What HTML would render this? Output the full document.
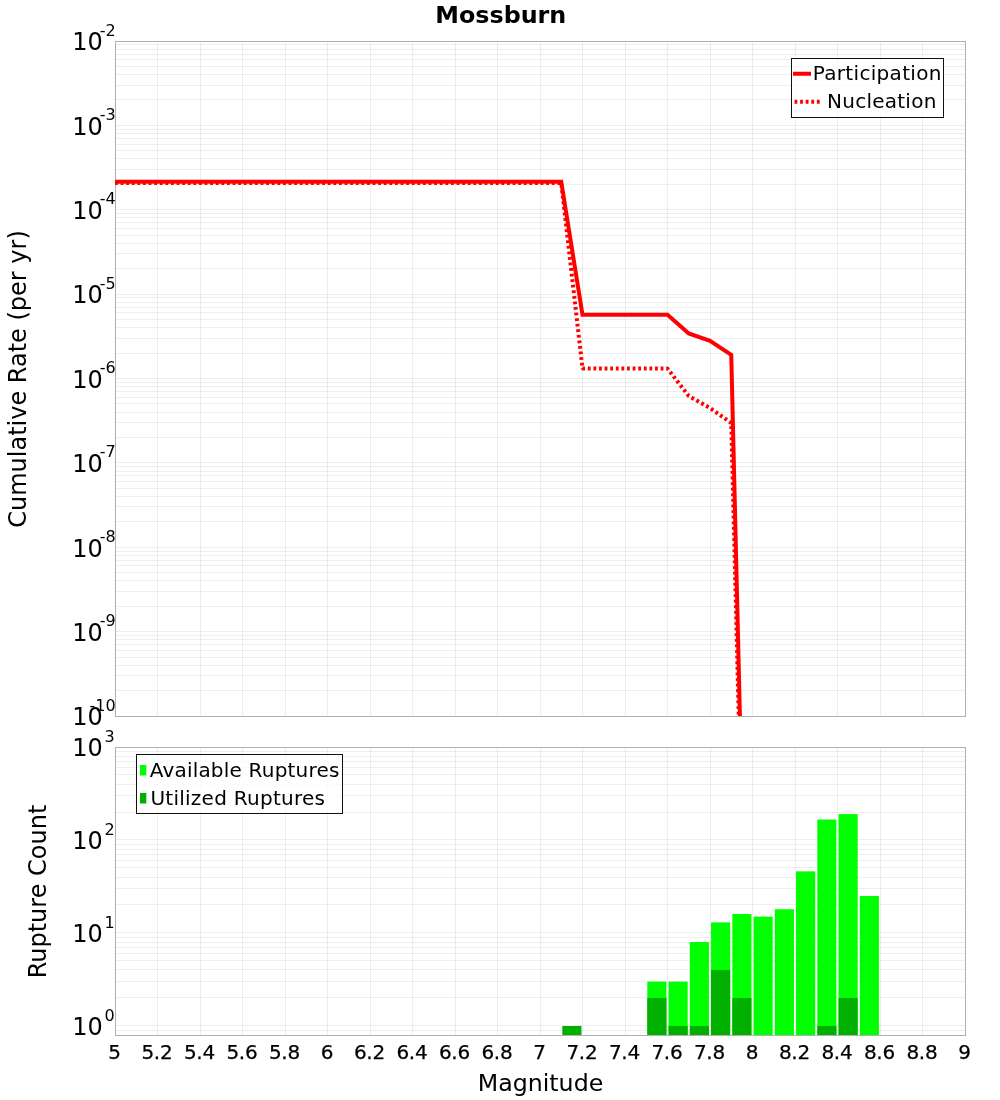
<!DOCTYPE html>
<html lang="en"><head><meta charset="utf-8"><title>Mossburn</title>
<style>html,body{margin:0;padding:0;background:#fff;}svg{display:block;}text{font-family:"DejaVu Sans", "Liberation Sans", sans-serif;fill:#000;}.xt text{stroke:#000;stroke-width:0.25px;}</style>
</head><body>
<svg width="1000" height="1100" viewBox="0 0 1000 1100">
<rect width="1000" height="1100" fill="#fff"/>
<g fill="#000" fill-opacity="0.065">
<rect x="157" y="42" width="1" height="674"/>
<rect x="157" y="748" width="1" height="287"/>
<rect x="200" y="42" width="1" height="674"/>
<rect x="200" y="748" width="1" height="287"/>
<rect x="242" y="42" width="1" height="674"/>
<rect x="242" y="748" width="1" height="287"/>
<rect x="285" y="42" width="1" height="674"/>
<rect x="285" y="748" width="1" height="287"/>
<rect x="327" y="42" width="1" height="674"/>
<rect x="327" y="748" width="1" height="287"/>
<rect x="370" y="42" width="1" height="674"/>
<rect x="370" y="748" width="1" height="287"/>
<rect x="412" y="42" width="1" height="674"/>
<rect x="412" y="748" width="1" height="287"/>
<rect x="455" y="42" width="1" height="674"/>
<rect x="455" y="748" width="1" height="287"/>
<rect x="497" y="42" width="1" height="674"/>
<rect x="497" y="748" width="1" height="287"/>
<rect x="540" y="42" width="1" height="674"/>
<rect x="540" y="748" width="1" height="287"/>
<rect x="582" y="42" width="1" height="674"/>
<rect x="582" y="748" width="1" height="287"/>
<rect x="625" y="42" width="1" height="674"/>
<rect x="625" y="748" width="1" height="287"/>
<rect x="667" y="42" width="1" height="674"/>
<rect x="667" y="748" width="1" height="287"/>
<rect x="710" y="42" width="1" height="674"/>
<rect x="710" y="748" width="1" height="287"/>
<rect x="752" y="42" width="1" height="674"/>
<rect x="752" y="748" width="1" height="287"/>
<rect x="795" y="42" width="1" height="674"/>
<rect x="795" y="748" width="1" height="287"/>
<rect x="837" y="42" width="1" height="674"/>
<rect x="837" y="748" width="1" height="287"/>
<rect x="880" y="42" width="1" height="674"/>
<rect x="880" y="748" width="1" height="287"/>
<rect x="922" y="42" width="1" height="674"/>
<rect x="922" y="748" width="1" height="287"/>
<rect x="116" y="125" width="849" height="1"/>
<rect x="116" y="99" width="849" height="1"/>
<rect x="116" y="85" width="849" height="1"/>
<rect x="116" y="74" width="849" height="1"/>
<rect x="116" y="66" width="849" height="1"/>
<rect x="116" y="59" width="849" height="1"/>
<rect x="116" y="54" width="849" height="1"/>
<rect x="116" y="49" width="849" height="1"/>
<rect x="116" y="44" width="849" height="1"/>
<rect x="116" y="209" width="849" height="1"/>
<rect x="116" y="184" width="849" height="1"/>
<rect x="116" y="169" width="849" height="1"/>
<rect x="116" y="158" width="849" height="1"/>
<rect x="116" y="150" width="849" height="1"/>
<rect x="116" y="144" width="849" height="1"/>
<rect x="116" y="138" width="849" height="1"/>
<rect x="116" y="133" width="849" height="1"/>
<rect x="116" y="129" width="849" height="1"/>
<rect x="116" y="294" width="849" height="1"/>
<rect x="116" y="268" width="849" height="1"/>
<rect x="116" y="253" width="849" height="1"/>
<rect x="116" y="243" width="849" height="1"/>
<rect x="116" y="235" width="849" height="1"/>
<rect x="116" y="228" width="849" height="1"/>
<rect x="116" y="222" width="849" height="1"/>
<rect x="116" y="217" width="849" height="1"/>
<rect x="116" y="213" width="849" height="1"/>
<rect x="116" y="378" width="849" height="1"/>
<rect x="116" y="353" width="849" height="1"/>
<rect x="116" y="338" width="849" height="1"/>
<rect x="116" y="327" width="849" height="1"/>
<rect x="116" y="319" width="849" height="1"/>
<rect x="116" y="312" width="849" height="1"/>
<rect x="116" y="307" width="849" height="1"/>
<rect x="116" y="302" width="849" height="1"/>
<rect x="116" y="297" width="849" height="1"/>
<rect x="116" y="462" width="849" height="1"/>
<rect x="116" y="437" width="849" height="1"/>
<rect x="116" y="422" width="849" height="1"/>
<rect x="116" y="412" width="849" height="1"/>
<rect x="116" y="403" width="849" height="1"/>
<rect x="116" y="397" width="849" height="1"/>
<rect x="116" y="391" width="849" height="1"/>
<rect x="116" y="386" width="849" height="1"/>
<rect x="116" y="382" width="849" height="1"/>
<rect x="116" y="547" width="849" height="1"/>
<rect x="116" y="521" width="849" height="1"/>
<rect x="116" y="506" width="849" height="1"/>
<rect x="116" y="496" width="849" height="1"/>
<rect x="116" y="488" width="849" height="1"/>
<rect x="116" y="481" width="849" height="1"/>
<rect x="116" y="475" width="849" height="1"/>
<rect x="116" y="471" width="849" height="1"/>
<rect x="116" y="466" width="849" height="1"/>
<rect x="116" y="631" width="849" height="1"/>
<rect x="116" y="606" width="849" height="1"/>
<rect x="116" y="591" width="849" height="1"/>
<rect x="116" y="580" width="849" height="1"/>
<rect x="116" y="572" width="849" height="1"/>
<rect x="116" y="565" width="849" height="1"/>
<rect x="116" y="560" width="849" height="1"/>
<rect x="116" y="555" width="849" height="1"/>
<rect x="116" y="551" width="849" height="1"/>
<rect x="116" y="690" width="849" height="1"/>
<rect x="116" y="675" width="849" height="1"/>
<rect x="116" y="665" width="849" height="1"/>
<rect x="116" y="657" width="849" height="1"/>
<rect x="116" y="650" width="849" height="1"/>
<rect x="116" y="644" width="849" height="1"/>
<rect x="116" y="639" width="849" height="1"/>
<rect x="116" y="635" width="849" height="1"/>
<rect x="116" y="1030" width="849" height="1"/>
<rect x="116" y="1025" width="849" height="1"/>
<rect x="116" y="997" width="849" height="1"/>
<rect x="116" y="981" width="849" height="1"/>
<rect x="116" y="969" width="849" height="1"/>
<rect x="116" y="960" width="849" height="1"/>
<rect x="116" y="953" width="849" height="1"/>
<rect x="116" y="947" width="849" height="1"/>
<rect x="116" y="942" width="849" height="1"/>
<rect x="116" y="937" width="849" height="1"/>
<rect x="116" y="932" width="849" height="1"/>
<rect x="116" y="904" width="849" height="1"/>
<rect x="116" y="888" width="849" height="1"/>
<rect x="116" y="877" width="849" height="1"/>
<rect x="116" y="867" width="849" height="1"/>
<rect x="116" y="860" width="849" height="1"/>
<rect x="116" y="854" width="849" height="1"/>
<rect x="116" y="849" width="849" height="1"/>
<rect x="116" y="844" width="849" height="1"/>
<rect x="116" y="839" width="849" height="1"/>
<rect x="116" y="812" width="849" height="1"/>
<rect x="116" y="795" width="849" height="1"/>
<rect x="116" y="784" width="849" height="1"/>
<rect x="116" y="774" width="849" height="1"/>
<rect x="116" y="767" width="849" height="1"/>
<rect x="116" y="761" width="849" height="1"/>
<rect x="116" y="756" width="849" height="1"/>
<rect x="116" y="751" width="849" height="1"/>
</g>
<g fill="none" stroke="#000" stroke-opacity="0.31" stroke-width="1">
<rect x="115.5" y="41.5" width="850.0" height="675.0"/>
<rect x="115.5" y="747.5" width="850.0" height="288.0"/>
</g>
<clipPath id="cu"><rect x="115" y="41" width="850.5" height="675"/></clipPath>
<g clip-path="url(#cu)" fill="none" stroke="#ff0000" stroke-width="4">
<polyline points="115.00,182.90 561.25,182.90 582.50,368.50 667.50,368.50 688.75,396.00 710.00,408.00 731.25,423.00 752.50,1255.00" stroke-dasharray="2.8 2.8" stroke-linejoin="bevel"/>
<polyline points="115.00,181.80 561.25,181.80 582.50,314.80 667.50,314.80 688.75,333.40 710.00,340.90 731.25,354.80 752.50,1240.00" stroke-linejoin="miter" stroke-miterlimit="10"/>
</g>
<g fill="#00ff00">
<rect x="647.31" y="981.63" width="19.12" height="53.37"/>
<rect x="668.56" y="981.63" width="19.12" height="53.37"/>
<rect x="689.81" y="942.01" width="19.12" height="92.99"/>
<rect x="711.06" y="922.40" width="19.12" height="112.60"/>
<rect x="732.31" y="914.02" width="19.12" height="120.98"/>
<rect x="753.56" y="916.62" width="19.12" height="118.38"/>
<rect x="774.81" y="909.26" width="19.12" height="125.74"/>
<rect x="796.06" y="871.36" width="19.12" height="163.64"/>
<rect x="817.31" y="819.53" width="19.12" height="215.47"/>
<rect x="838.56" y="814.08" width="19.12" height="220.92"/>
<rect x="859.81" y="895.99" width="19.12" height="139.01"/>
</g><g fill="#00af00">
<rect x="562.31" y="1026.00" width="19.12" height="9.00"/>
<rect x="647.31" y="998.00" width="19.12" height="37.00"/>
<rect x="668.56" y="1026.00" width="19.12" height="9.00"/>
<rect x="689.81" y="1026.00" width="19.12" height="9.00"/>
<rect x="711.06" y="970.01" width="19.12" height="64.99"/>
<rect x="732.31" y="998.00" width="19.12" height="37.00"/>
<rect x="817.31" y="1026.00" width="19.12" height="9.00"/>
<rect x="838.56" y="998.00" width="19.12" height="37.00"/>
</g>
<text x="500.8" y="22.7" font-size="23.8" font-weight="bold" text-anchor="middle">Mossburn</text>
<text x="102.8" y="50.30" font-size="24" text-anchor="end">10</text>
<text x="115.6" y="35.50" font-size="16" text-anchor="end">-2</text>
<text x="102.8" y="134.68" font-size="24" text-anchor="end">10</text>
<text x="115.6" y="119.88" font-size="16" text-anchor="end">-3</text>
<text x="102.8" y="219.05" font-size="24" text-anchor="end">10</text>
<text x="115.6" y="204.25" font-size="16" text-anchor="end">-4</text>
<text x="102.8" y="303.43" font-size="24" text-anchor="end">10</text>
<text x="115.6" y="288.62" font-size="16" text-anchor="end">-5</text>
<text x="102.8" y="387.80" font-size="24" text-anchor="end">10</text>
<text x="115.6" y="373.00" font-size="16" text-anchor="end">-6</text>
<text x="102.8" y="472.18" font-size="24" text-anchor="end">10</text>
<text x="115.6" y="457.38" font-size="16" text-anchor="end">-7</text>
<text x="102.8" y="556.55" font-size="24" text-anchor="end">10</text>
<text x="115.6" y="541.75" font-size="16" text-anchor="end">-8</text>
<text x="102.8" y="640.92" font-size="24" text-anchor="end">10</text>
<text x="115.6" y="626.12" font-size="16" text-anchor="end">-9</text>
<text x="102.8" y="725.30" font-size="24" text-anchor="end">10</text>
<text x="115.6" y="710.50" font-size="16" text-anchor="end">-10</text>
<text x="102.8" y="1035.30" font-size="24" text-anchor="end">10</text>
<text x="114.6" y="1021.10" font-size="16" text-anchor="end">0</text>
<text x="102.8" y="942.30" font-size="24" text-anchor="end">10</text>
<text x="114.6" y="928.10" font-size="16" text-anchor="end">1</text>
<text x="102.8" y="849.30" font-size="24" text-anchor="end">10</text>
<text x="114.6" y="835.10" font-size="16" text-anchor="end">2</text>
<text x="102.8" y="756.30" font-size="24" text-anchor="end">10</text>
<text x="114.6" y="742.10" font-size="16" text-anchor="end">3</text>
<g class="xt">
<text x="114.40" y="1059.3" font-size="20" letter-spacing="-0.3" text-anchor="middle">5</text>
<text x="156.90" y="1059.3" font-size="20" letter-spacing="-0.3" text-anchor="middle">5.2</text>
<text x="199.40" y="1059.3" font-size="20" letter-spacing="-0.3" text-anchor="middle">5.4</text>
<text x="241.90" y="1059.3" font-size="20" letter-spacing="-0.3" text-anchor="middle">5.6</text>
<text x="284.40" y="1059.3" font-size="20" letter-spacing="-0.3" text-anchor="middle">5.8</text>
<text x="326.90" y="1059.3" font-size="20" letter-spacing="-0.3" text-anchor="middle">6</text>
<text x="369.40" y="1059.3" font-size="20" letter-spacing="-0.3" text-anchor="middle">6.2</text>
<text x="411.90" y="1059.3" font-size="20" letter-spacing="-0.3" text-anchor="middle">6.4</text>
<text x="454.40" y="1059.3" font-size="20" letter-spacing="-0.3" text-anchor="middle">6.6</text>
<text x="496.90" y="1059.3" font-size="20" letter-spacing="-0.3" text-anchor="middle">6.8</text>
<text x="539.40" y="1059.3" font-size="20" letter-spacing="-0.3" text-anchor="middle">7</text>
<text x="581.90" y="1059.3" font-size="20" letter-spacing="-0.3" text-anchor="middle">7.2</text>
<text x="624.40" y="1059.3" font-size="20" letter-spacing="-0.3" text-anchor="middle">7.4</text>
<text x="666.90" y="1059.3" font-size="20" letter-spacing="-0.3" text-anchor="middle">7.6</text>
<text x="709.40" y="1059.3" font-size="20" letter-spacing="-0.3" text-anchor="middle">7.8</text>
<text x="751.90" y="1059.3" font-size="20" letter-spacing="-0.3" text-anchor="middle">8</text>
<text x="794.40" y="1059.3" font-size="20" letter-spacing="-0.3" text-anchor="middle">8.2</text>
<text x="836.90" y="1059.3" font-size="20" letter-spacing="-0.3" text-anchor="middle">8.4</text>
<text x="879.40" y="1059.3" font-size="20" letter-spacing="-0.3" text-anchor="middle">8.6</text>
<text x="921.90" y="1059.3" font-size="20" letter-spacing="-0.3" text-anchor="middle">8.8</text>
<text x="964.40" y="1059.3" font-size="20" letter-spacing="-0.3" text-anchor="middle">9</text>
</g>
<text x="540.5" y="1091" font-size="23.7" text-anchor="middle">Magnitude</text>
<text transform="translate(26,379) rotate(-90)" font-size="24" text-anchor="middle">Cumulative Rate (per yr)</text>
<text transform="translate(46,891.5) rotate(-90)" font-size="24" text-anchor="middle">Rupture Count</text>
<rect x="791.5" y="58.5" width="152" height="59" fill="#fff" fill-opacity="0.75" stroke="#111" stroke-width="1"/>
<line x1="795" y1="73.75" x2="809" y2="73.75" stroke="#ff0000" stroke-width="4" stroke-linecap="square"/>
<line x1="794.5" y1="101.8" x2="820" y2="101.8" stroke="#ff0000" stroke-width="4" stroke-dasharray="2.8 2.8"/>
<text x="812.8" y="79.5" font-size="20" letter-spacing="0.31">Participation</text>
<text x="827.1" y="107.8" font-size="20" letter-spacing="0.24">Nucleation</text>
<rect x="136.5" y="754.5" width="206" height="59" fill="#fff" fill-opacity="0.75" stroke="#111" stroke-width="1"/>
<rect x="140" y="765" width="6.3" height="10.5" fill="#00ff00"/>
<rect x="140" y="793" width="6.3" height="10.5" fill="#00af00"/>
<text x="149.7" y="776.5" font-size="20" letter-spacing="0.2">Available Ruptures</text>
<text x="150.4" y="804.5" font-size="20" letter-spacing="0.26">Utilized Ruptures</text>
</svg></body></html>
